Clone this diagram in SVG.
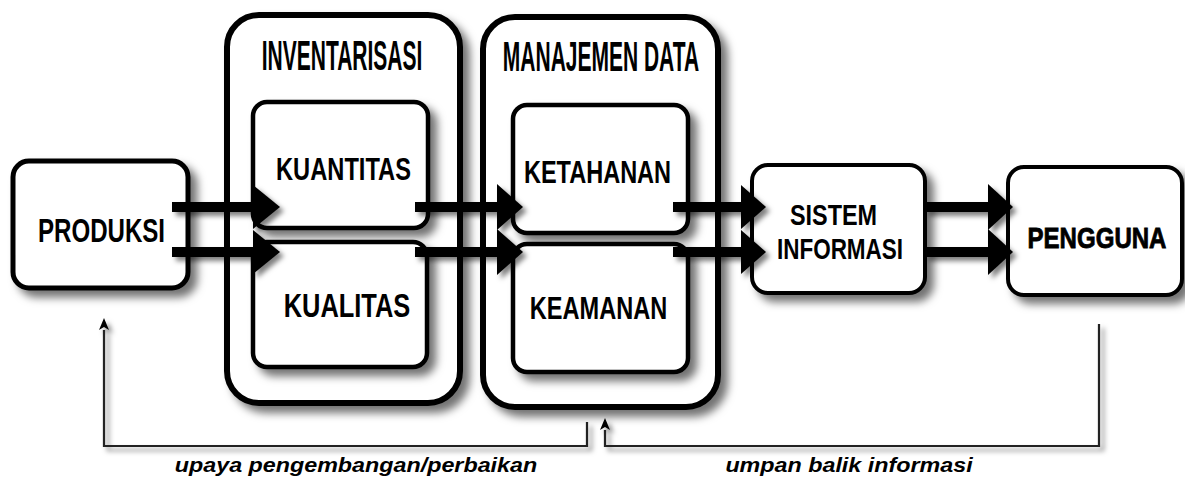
<svg xmlns="http://www.w3.org/2000/svg" width="1185" height="477" viewBox="0 0 1185 477">
<style>
.box{fill:#fff;stroke:#000;filter:url(#sh)}
.outer{stroke-width:6}
.inner{stroke-width:4.5}
.t{font-family:"Liberation Sans",Arial,sans-serif;font-weight:bold;fill:#000;text-anchor:middle}
.lbl{font-family:"Liberation Sans",Arial,sans-serif;font-weight:bold;font-style:italic;font-size:21px;fill:#000;text-anchor:middle}
.thick{stroke:#000;stroke-width:10;fill:none}
.head{fill:#000}
.thin{stroke:#222;stroke-width:2.2;fill:none}
</style>
<defs>
<filter id="sh" x="-20%" y="-20%" width="150%" height="150%">
<feDropShadow dx="7" dy="7" stdDeviation="4" flood-color="#000" flood-opacity="0.55"/>
</filter>
<filter id="sh2" x="-20%" y="-20%" width="150%" height="150%">
<feDropShadow dx="4" dy="4" stdDeviation="2.5" flood-color="#000" flood-opacity="0.5"/>
</filter>
<marker id="small" viewBox="0 -5 12 10" refX="0" refY="0" markerWidth="12" markerHeight="10" markerUnits="userSpaceOnUse" orient="auto">
<path d="M0,-5 L12,0 L0,5 L3,0 z" fill="#000"/>
</marker>
</defs>
<rect width="1185" height="477" fill="#fff"/>

<g id="inventarisasi">
<rect class="box outer" x="227" y="15" width="233" height="388" rx="32"/>
<text class="t" transform="translate(342,70) scale(0.5,1)" x="0" y="0" font-size="42">INVENTARISASI</text>
</g>
<g id="manajemen-data">
<rect class="box outer" x="483" y="17" width="235" height="390" rx="32"/>
<text class="t" transform="translate(601,71) scale(0.5,1)" x="0" y="0" font-size="42">MANAJEMEN DATA</text>
</g>
<g id="produksi">
<rect class="box" x="13" y="161" width="175" height="127" rx="16" stroke-width="5"/>
<text class="t" transform="translate(101.5,242) scale(0.73,1)" x="0" y="0" font-size="33">PRODUKSI</text>
</g>
<g id="kuantitas">
<rect class="box inner" x="253" y="102" width="175" height="126" rx="14"/>
<text class="t" transform="translate(343.5,180) scale(0.74,1)" x="0" y="0" font-size="32">KUANTITAS</text>
</g>
<g id="kualitas">
<rect class="box inner" x="253" y="242" width="174" height="125" rx="14"/>
<text class="t" transform="translate(347,317) scale(0.77,1)" x="0" y="0" font-size="33">KUALITAS</text>
</g>
<g id="ketahanan">
<rect class="box inner" x="513" y="105" width="175" height="128" rx="14"/>
<text class="t" transform="translate(597.5,183) scale(0.735,1)" x="0" y="0" font-size="32">KETAHANAN</text>
</g>
<g id="keamanan">
<rect class="box inner" x="513" y="244" width="175" height="128" rx="14"/>
<text class="t" transform="translate(598.5,319) scale(0.76,1)" x="0" y="0" font-size="31">KEAMANAN</text>
</g>
<g id="sistem-informasi">
<rect class="box" x="752" y="165" width="173" height="128" rx="16" stroke-width="4"/>
<text class="t" transform="translate(833.5,225) scale(0.78,1)" x="0" y="0" font-size="30">SISTEM</text>
<text class="t" transform="translate(840,259) scale(0.75,1)" x="0" y="0" font-size="30">INFORMASI</text>
</g>
<g id="pengguna">
<rect class="box" x="1008" y="167" width="174" height="128" rx="16" stroke-width="4"/>
<text class="t" transform="translate(1097,248) scale(0.83,1)" x="0" y="0" font-size="29" stroke="#000" stroke-width="0.8">PENGGUNA</text>
</g>

<g id="connectors">
<g filter="url(#sh2)">
<line class="thick" x1="172" y1="207" x2="256" y2="207"/>
<polygon class="head" points="253,185 280,207 253,229"/>
<line class="thick" x1="172" y1="252" x2="256" y2="252"/>
<polygon class="head" points="253,230 280,252 253,274"/>
<line class="thick" x1="415" y1="207" x2="500" y2="207"/>
<polygon class="head" points="497,184 523,207 497,230"/>
<line class="thick" x1="415" y1="252" x2="500" y2="252"/>
<polygon class="head" points="497,229 523,252 497,275"/>
<line class="thick" x1="673" y1="207" x2="744" y2="207"/>
<polygon class="head" points="741,185 766,207 741,229"/>
<line class="thick" x1="673" y1="252" x2="744" y2="252"/>
<polygon class="head" points="741,230 766,252 741,274"/>
<line class="thick" x1="925" y1="207" x2="991" y2="207"/>
<polygon class="head" points="988,184 1013,207 988,230"/>
<line class="thick" x1="925" y1="252" x2="991" y2="252"/>
<polygon class="head" points="988,229 1013,252 988,275"/>
</g>
<g filter="url(#sh2)">
<polyline class="thin" points="587,422 587,446 104,446 104,330" marker-end="url(#small)"/>
<polyline class="thin" points="1099,324 1099,446 605,446 605,430" marker-end="url(#small)"/>
</g>
<text class="lbl" transform="translate(356,472) scale(1.11,1)" x="0" y="0">upaya pengembangan/perbaikan</text>
<text class="lbl" transform="translate(849,472) scale(1.11,1)" x="0" y="0">umpan balik informasi</text>
</g>
</svg>
